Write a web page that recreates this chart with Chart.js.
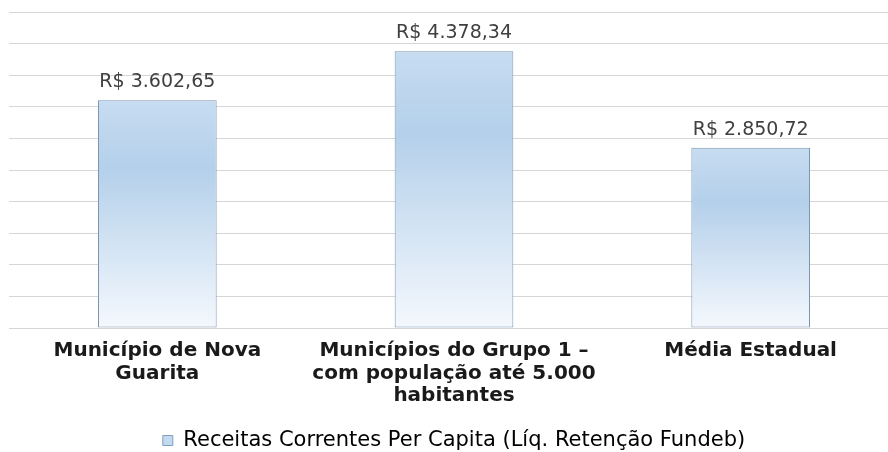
<!DOCTYPE html>
<html>
<head>
<meta charset="utf-8">
<script src="https://cdn.jsdelivr.net/npm/chart.js@4.4.1/dist/chart.umd.min.js"></script>
<style>
  html, body { margin: 0; padding: 0; background: #ffffff; overflow: hidden; width: 888px; height: 452px; }
  #wrap { position: absolute; left: 0; top: 0; width: 916px; height: 452px; }
</style>
</head>
<body>
<div id="wrap"><canvas id="c" width="916" height="452"></canvas></div>
<script>
const categories = [
  ['Município de Nova', 'Guarita'],
  ['Municípios do Grupo 1 –', 'com população até 5.000', 'habitantes'],
  ['Média Estadual']
];
const seriesName = 'Receitas Correntes Per Capita (Líq. Retenção Fundeb)';
const values = [3602.65, 4378.34, 2850.72];
const yMin = 0;
const yMax = 5000;
const yStep = 500;

function formatBRL(v) {
  const parts = v.toFixed(2).split('.');
  const intPart = parts[0].replace(/\B(?=(\d{3})+(?!\d))/g, '.');
  return 'R$ ' + intPart + ',' + parts[1];
}

const FONT = '"DejaVu Sans", sans-serif';

function barFill(ctx) {
  const chart = ctx.chart;
  if (ctx.type !== 'data' || !chart.chartArea || !chart.scales.y) return '#c3d9ef';
  const y = chart.scales.y;
  const top = y.getPixelForValue(ctx.raw);
  const bottom = y.getPixelForValue(0);
  if (!isFinite(top) || !isFinite(bottom) || bottom - top < 1) return '#c3d9ef';
  const g = chart.ctx.createLinearGradient(0, top, 0, bottom);
  g.addColorStop(0, '#c7dcf1');
  g.addColorStop(0.3, '#b4d0ea');
  g.addColorStop(1, '#f4f8fd');
  return g;
}

const valueLabels = {
  id: 'valueLabels',
  afterDatasetsDraw(chart) {
    const c = chart.ctx;
    const meta = chart.getDatasetMeta(0);
    c.save();
    c.font = '19px ' + FONT;
    c.fillStyle = '#404040';
    c.textAlign = 'center';
    c.textBaseline = 'alphabetic';
    meta.data.forEach((bar, i) => {
      c.fillText(formatBRL(values[i]), bar.x, bar.y - 13);
    });
    c.restore();
  }
};

new Chart(document.getElementById('c'), {
  type: 'bar',
  data: {
    labels: categories,
    datasets: [{
      label: seriesName,
      data: values,
      backgroundColor: barFill,
      borderColor: '#7b96b2',
      borderWidth: 1,
      borderSkipped: false,
      barPercentage: 0.4,
      categoryPercentage: 1.0
    }]
  },
  options: {
    responsive: false,
    animation: false,
    devicePixelRatio: 1,
    layout: { padding: { left: 9, right: 17, top: 12, bottom: -9 } },
    plugins: {
      tooltip: { enabled: false },
      legend: {
        display: true,
        position: 'bottom',
        labels: {
          boxWidth: 10,
          boxHeight: 10,
          padding: 4,
          color: '#404040',
          font: { family: FONT, size: 21 },
          generateLabels(chart) {
            return [{
              text: seriesName,
              fillStyle: '#c3d9ef',
              strokeStyle: '#7f9fbf',
              lineWidth: 1,
              hidden: false,
              datasetIndex: 0
            }];
          }
        }
      }
    },
    scales: {
      x: {
        grid: { display: false, drawTicks: false },
        border: { display: false },
        ticks: {
          color: '#1a1a1a',
          font: { family: FONT, size: 20, weight: 'bold', lineHeight: 1.125 },
          padding: 12,
          maxRotation: 0,
          autoSkip: false
        },
        afterFit(scale) { scale.height = 98; }
      },
      y: {
        min: yMin,
        max: yMax,
        ticks: { stepSize: yStep, display: false },
        grid: { color: '#d6d6d6', lineWidth: 1, drawTicks: false },
        border: { display: false },
        afterFit(scale) { scale.width = 0; }
      }
    }
  },
  plugins: [valueLabels]
});
</script>
</body>
</html>
